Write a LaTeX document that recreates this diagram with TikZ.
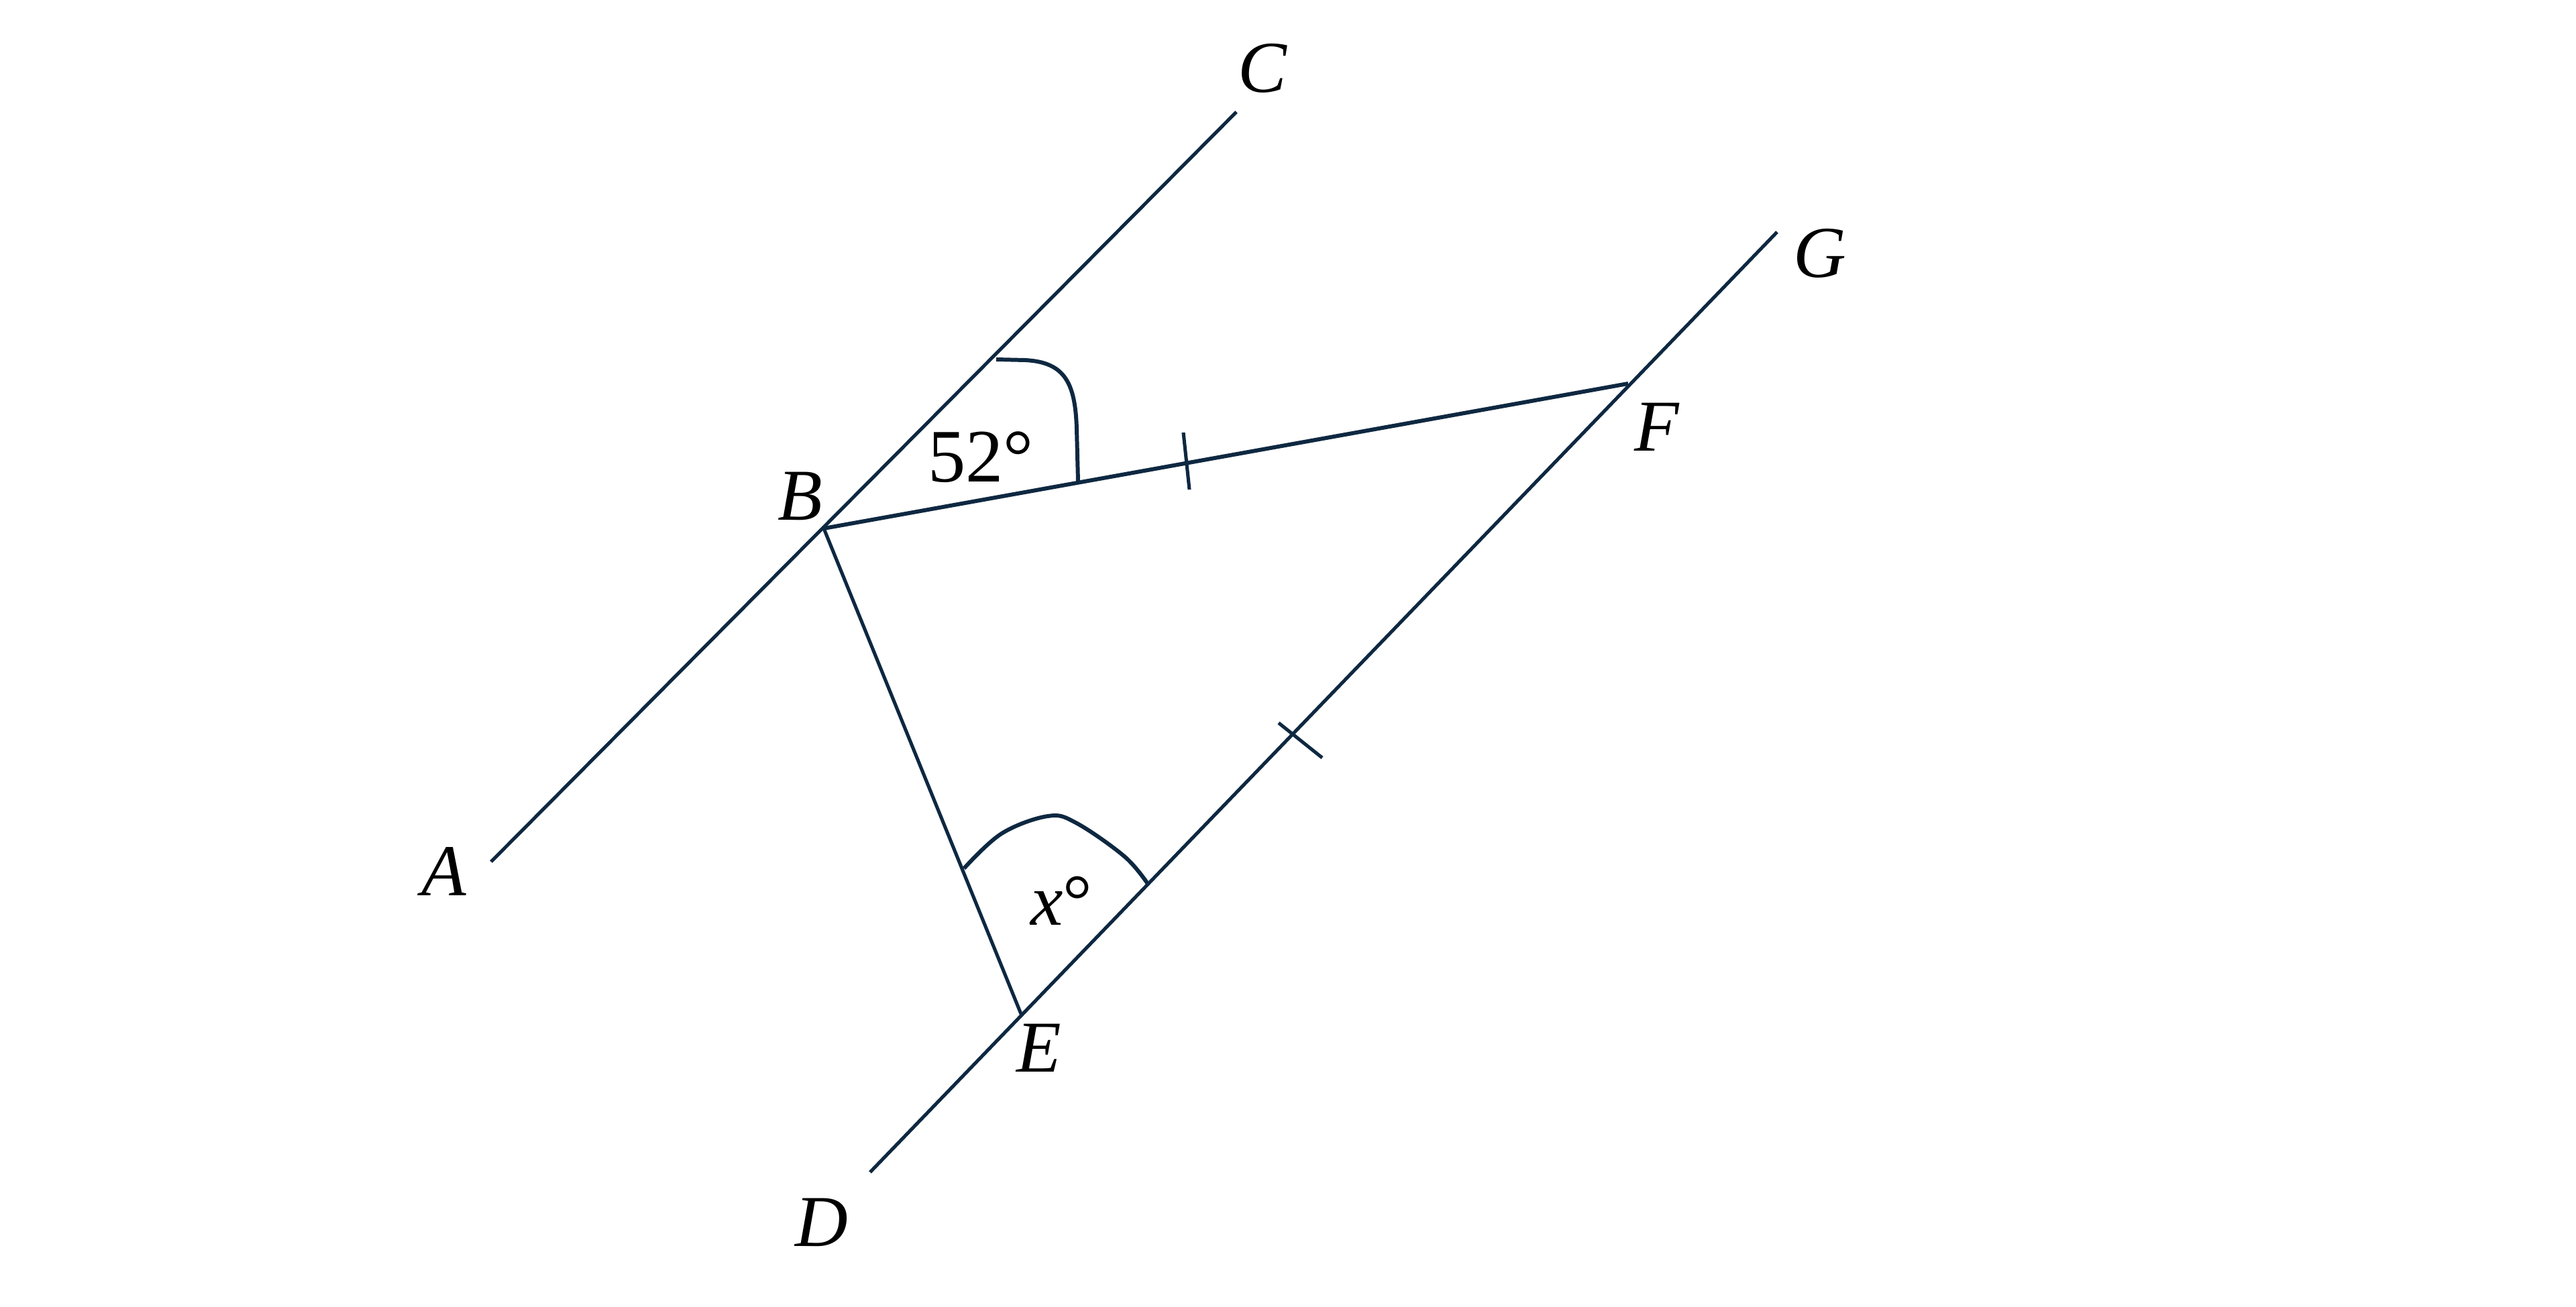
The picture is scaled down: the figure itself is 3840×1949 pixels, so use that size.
\documentclass[tikz,border=0pt]{standalone}
\usepackage{fontspec}
\setmainfont{Liberation Serif}
\usetikzlibrary{calc}
\definecolor{navy}{RGB}{14,40,65}
\begin{document}
\begin{tikzpicture}[x=0.01cm,y=-0.01cm,
  geo/.style={draw=navy,line width=1.45pt},
  thick geo/.style={draw=navy,line width=1.7pt},
  lbl/.style={inner sep=0pt,font=\fontsize{31}{37}\selectfont\itshape,text=black},
  num/.style={inner sep=0pt,font=\fontsize{32}{38}\selectfont,text=black}]
\useasboundingbox (0,0) rectangle (3840,1949);
% points
\coordinate (A) at (732,1285);
\coordinate (C) at (1843,167);
\coordinate (D) at (1297,1748);
\coordinate (G) at (2649,346);
\coordinate (B) at (1228,788);
\coordinate (E) at (1522,1512);
\coordinate (F) at (2427,572);
\coordinate (t1) at (1764,645);
\coordinate (t2) at (1773,730);
\coordinate (t3) at (1906,1078);
\coordinate (t4) at (1971,1130);
% lines
\draw[geo] (A) -- (C);
\draw[geo] (D) -- (G);
\draw[thick geo] (B) -- (F);
\draw[geo] (B) -- (E);
% ticks
\draw[geo] (t1) -- (t2);
\draw[geo] (t3) -- (t4);
% angle marks
\draw[thick geo] (1485,536) -- (1528,537) .. controls (1588,540) and (1603,572) .. (1605,640) -- (1607,717);
\draw[thick geo] plot[smooth,tension=0.6] coordinates {(1437,1295) (1493,1243) (1562,1217) (1604,1227) (1676,1277) (1711,1318)};
% labels
\node[lbl] (lA) at (662,1300) {A};
\node[lbl] (lB) at (1193,740) {B};
\node[lbl] (lC) at (1882,102) {C};
\node[lbl] (lD) at (1225,1823) {D};
\node[lbl] (lE) at (1549,1563) {E};
\node[lbl] (lF) at (2470,637) {F};
\node[lbl] (lG) at (2713,378) {G};
\node[num] (l52) at (1462,682) {52°};
\node[lbl] (lx) at (1582,1343) {x\upshape°};
\end{tikzpicture}
\end{document}
